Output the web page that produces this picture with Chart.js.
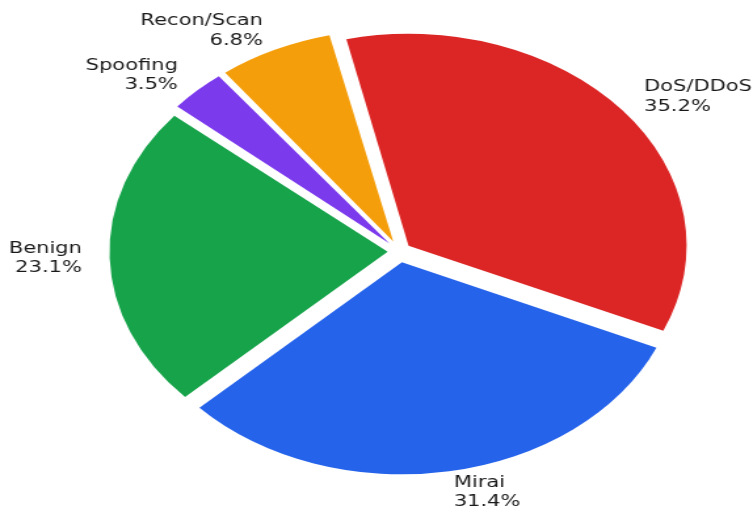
<!DOCTYPE html>
<html>
<head>
  <title>Traffic classes</title>
  <meta name="viewport" content="width=device-width, initial-scale=1">
  <style>
    html, body { margin: 0; padding: 0; background: #fff; overflow: hidden; }
    /* the pie is drawn round and then widened into an ellipse */
    #wrap { width: 574px; height: 512px; transform-origin: 0 0; transform: scaleX(1.3118); }
  </style>
</head>
<body>
  <div id="wrap">
    <canvas id="myChart" width="574" height="512"></canvas>
  </div>
  <script src="https://cdn.jsdelivr.net/npm/chart.js"></script>
  <script>
    const labels = ['DoS/DDoS', 'Mirai', 'Benign', 'Spoofing', 'Recon/Scan'];
    const shares = [35.2, 31.4, 23.1, 3.5, 6.8];

    const colors = ['#dc2626', '#2563eb', '#16a34a', '#7c3aed', '#f59e0b'];
    const explode = [9, 11, 9, 11, 11];   // px each wedge is pulled out
    const R = 212;

    // chart.js also grows the radius of offset arcs, undo that so all wedges stay the same size
    const keepRadius = {
      id: 'keepRadius',
      beforeDatasetsDraw(chart) {
        chart.getDatasetMeta(0).data.forEach((arc) => {
          const fix = 1 - Math.sin(Math.min(Math.PI, arc.circumference));
          arc.outerRadius = R - (arc.options.offset / 4) * fix;
        });
      }
    };

    const sliceLabels = {
      id: 'sliceLabels',
      afterDatasetsDraw(chart) {
        const ctx = chart.ctx;
        ctx.save();
        ctx.font = '16px "DejaVu Sans"';
        ctx.fillStyle = '#1a1a1a';
        ctx.textBaseline = 'middle';
        chart.getDatasetMeta(0).data.forEach((arc, i) => {
          const mid = (arc.startAngle + arc.endAngle) / 2;
          const dist = explode[i] + 1.1 * R;
          const x = arc.x + Math.cos(mid) * dist;
          const y = arc.y + Math.sin(mid) * dist;
          ctx.textAlign = Math.cos(mid) < 0 ? 'right' : 'left';
          ctx.fillText(labels[i], x, y - 9.75);
          ctx.fillText(shares[i].toFixed(1) + '%', x, y + 9.75);
        });
        ctx.restore();
      }
    };

    const ctx = document.getElementById('myChart');
    new Chart(ctx, {
      type: 'pie',
      data: {
        labels: labels,
        datasets: [{
          data: shares,
          backgroundColor: colors,
          borderWidth: 0,
          offset: explode.map(v => v * 4)
        }]
      },
      options: {
        responsive: false,
        devicePixelRatio: 1,
        animation: false,
        rotation: -13,
        radius: R,
        layout: { padding: { left: 35, right: 0, top: 0, bottom: 9 } },
        plugins: {
          legend: { display: false },
          tooltip: { enabled: false }
        }
      },
      plugins: [keepRadius, sliceLabels]
    });
  </script>
</body>
</html>
